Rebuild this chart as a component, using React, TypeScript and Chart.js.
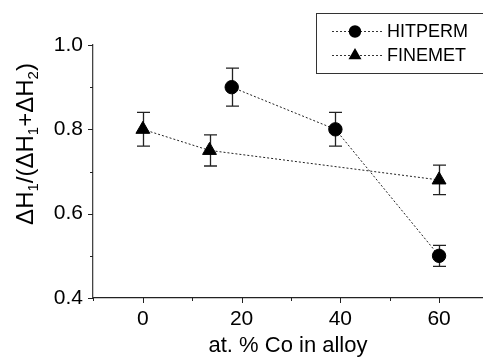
import React, { useEffect, useRef } from "react";
import { Chart, registerables } from "chart.js";

Chart.register(...registerables);

// ---- data ----
const seriesNames = ["HITPERM", "FINEMET"];
const hitpermX = [18, 39, 60];
const hitpermY = [0.9, 0.8, 0.5];
const hitpermErr = [0.045, 0.04, 0.025];
const finemetX = [0, 13.5, 60];
const finemetY = [0.8, 0.75, 0.68];
const finemetErr = [0.04, 0.037, 0.035];
const xTicks = [0, 20, 40, 60];
const xMinorTicks = [-10, 10, 30, 50];
const yTicks = [0.4, 0.6, 0.8, 1.0];
const yMinorTicks = [0.5, 0.7, 0.9];
const xTitle = "at. % Co in alloy";
// y title pieces: [text, isSubscript]
const yTitleParts: [string, boolean][] = [
  ["Δ", false], ["H", false], ["1", true], ["/(", false],
  ["Δ", false], ["H", false], ["1", true], ["+", false],
  ["Δ", false], ["H", false], ["2", true], [")", false],
];

const FONT = "'Liberation Sans', Arial, Helvetica, sans-serif";
const errors = [hitpermErr, finemetErr];

const areaPlugin = {
  id: "areaFix",
  afterLayout(chart: any) {
    const xs = chart.scales.x;
    const a = chart.chartArea;
    a.right = chart.width;
    a.width = a.right - a.left;
    xs.right = chart.width;
    xs.width = xs.right - xs.left;
    xs.configure();
  },
};

const errorBarPlugin = {
  id: "errorBars",
  beforeDatasetsDraw(chart: any) {
    const ctx = chart.ctx;
    const ys = chart.scales.y;
    chart.data.datasets.forEach((ds: any, i: number) => {
      const meta = chart.getDatasetMeta(i);
      meta.data.forEach((pt: any, j: number) => {
        const v = ds.data[j].y;
        const e = errors[i][j];
        const top = ys.getPixelForValue(v + e);
        const bot = ys.getPixelForValue(v - e);
        const x = Math.round(pt.x) + 0.5;
        ctx.save();
        ctx.strokeStyle = "#222";
        ctx.lineWidth = 1.3;
        ctx.beginPath();
        ctx.moveTo(x, top);
        ctx.lineTo(x, bot);
        ctx.moveTo(x - 6.5, top);
        ctx.lineTo(x + 6.5, top);
        ctx.moveTo(x - 6.5, bot);
        ctx.lineTo(x + 6.5, bot);
        ctx.stroke();
        ctx.restore();
      });
    });
  },
};

const decorPlugin = {
  id: "decor",
  afterDraw(chart: any) {
    const ctx = chart.ctx;
    const xs = chart.scales.x;
    const ys = chart.scales.y;
    const area = chart.chartArea;
    ctx.save();
    ctx.strokeStyle = "#222";
    ctx.lineWidth = 1;
    ctx.beginPath();
    xTicks.forEach((v) => {
      const px = Math.round(xs.getPixelForValue(v)) + 0.5;
      ctx.moveTo(px, area.bottom);
      ctx.lineTo(px, area.bottom + 5);
    });
    xMinorTicks.forEach((v) => {
      const px = Math.round(xs.getPixelForValue(v)) + 0.5;
      ctx.moveTo(px, area.bottom);
      ctx.lineTo(px, area.bottom + 3);
    });
    yTicks.forEach((v) => {
      const py = Math.round(ys.getPixelForValue(v)) + 0.5;
      ctx.moveTo(area.left, py);
      ctx.lineTo(area.left - 5, py);
    });
    yMinorTicks.forEach((v) => {
      const py = Math.round(ys.getPixelForValue(v)) + 0.5;
      ctx.moveTo(area.left, py);
      ctx.lineTo(area.left - 3, py);
    });
    ctx.stroke();

    // y title with subscripts
    const fs = 24;
    const sfs = 15;
    const measure = (t: string, sub: boolean) => {
      ctx.font = `${sub ? sfs : fs}px ${FONT}`;
      return ctx.measureText(t).width;
    };
    let total = 0;
    yTitleParts.forEach(([t, s]) => (total += measure(t, s)));
    ctx.save();
    ctx.translate(33, 144 + total / 2);
    ctx.rotate(-Math.PI / 2);
    ctx.fillStyle = "#000";
    ctx.textBaseline = "alphabetic";
    ctx.textAlign = "left";
    let cx = 0;
    yTitleParts.forEach(([t, s]) => {
      ctx.font = `${s ? sfs : fs}px ${FONT}`;
      ctx.fillText(t, cx, s ? 5 : 0);
      cx += ctx.measureText(t).width;
    });
    ctx.restore();

    // legend
    ctx.strokeStyle = "#333";
    ctx.lineWidth = 1;
    ctx.strokeRect(316.5, 13.5, 200, 60);
    const rows = [31.5, 55.5];
    rows.forEach((ry, i) => {
      ctx.save();
      ctx.strokeStyle = "#333";
      ctx.setLineDash([2, 2]);
      ctx.beginPath();
      ctx.moveTo(332, ry);
      ctx.lineTo(382, ry);
      ctx.stroke();
      ctx.restore();
      ctx.fillStyle = "#000";
      ctx.beginPath();
      if (i === 0) {
        ctx.arc(355, ry, 6.2, 0, Math.PI * 2);
      } else {
        const r = 7.5;
        ctx.moveTo(355, ry - r);
        ctx.lineTo(355 + r * 0.866, ry + r * 0.5);
        ctx.lineTo(355 - r * 0.866, ry + r * 0.5);
        ctx.closePath();
      }
      ctx.fill();
      ctx.font = `18px ${FONT}`;
      ctx.textBaseline = "middle";
      ctx.textAlign = "left";
      ctx.fillText(seriesNames[i], 387, ry + 1);
    });
    ctx.restore();
  },
};

export default function App() {
  const ref = useRef<HTMLCanvasElement>(null);
  useEffect(() => {
    document.documentElement.style.overflow = "hidden";
    document.body.style.overflow = "hidden";
    document.body.style.margin = "0";
    if (!ref.current) return;
    const chart = new Chart(ref.current, {
      type: "scatter",
      data: {
        datasets: [
          {
            label: seriesNames[0],
            data: hitpermX.map((x, i) => ({ x, y: hitpermY[i] })),
            showLine: true,
            borderColor: "#222",
            borderWidth: 1,
            borderDash: [2, 2],
            pointStyle: "circle",
            pointRadius: 6.7,
            pointBackgroundColor: "#000",
            pointBorderColor: "#000",
            pointBorderWidth: 1,
          },
          {
            label: seriesNames[1],
            data: finemetX.map((x, i) => ({ x, y: finemetY[i] })),
            showLine: true,
            borderColor: "#222",
            borderWidth: 1,
            borderDash: [2, 2],
            pointStyle: "triangle",
            pointRadius: 8,
            pointBackgroundColor: "#000",
            pointBorderColor: "#000",
            pointBorderWidth: 1,
          },
        ],
      },
      options: {
        animation: false,
        responsive: false,
        layout: { padding: { top: 45, right: 0, left: 0, bottom: 0 } },
        plugins: { legend: { display: false }, tooltip: { enabled: false } },
        scales: {
          x: {
            type: "linear",
            min: -10.1,
            max: 68.9,
            grid: { display: false, drawTicks: false },
            border: { display: true, color: "#222", width: 1.3 },
            afterBuildTicks: (s: any) => {
              s.ticks = xTicks.map((v) => ({ value: v }));
            },
            afterFit: (s: any) => {
              s.height = 65;
              s.paddingLeft = 0;
              s.paddingRight = 0;
            },
            ticks: {
              padding: 9,
              color: "#000",
              font: { family: FONT, size: 21 },
              callback: (v: any) => String(v),
            },
            title: { display: true, text: xTitle, color: "#000", font: { family: FONT, size: 22 }, padding: { top: 8 } },
          },
          y: {
            type: "linear",
            min: 0.4,
            max: 1.0,
            grid: { display: false, drawTicks: false },
            border: { display: true, color: "#444", width: 1.3 },
            afterBuildTicks: (s: any) => {
              s.ticks = yTicks.map((v) => ({ value: v }));
            },
            afterFit: (s: any) => {
              s.width = 93;
              s.paddingTop = 0;
              s.paddingBottom = 0;
            },
            ticks: {
              padding: 10,
              color: "#000",
              font: { family: FONT, size: 21 },
              callback: (v: any) => Number(v).toFixed(1),
            },
          },
        },
      },
      plugins: [areaPlugin, errorBarPlugin, decorPlugin],
    } as any);
    return () => chart.destroy();
  }, []);
  return (
    <div style={{ position: "fixed", left: 0, top: 0, width: 483, height: 363, background: "#fff", overflow: "hidden" }}>
      <canvas ref={ref} width={483} height={363} style={{ display: "block", width: 483, height: 363 }} />
    </div>
  );
}
